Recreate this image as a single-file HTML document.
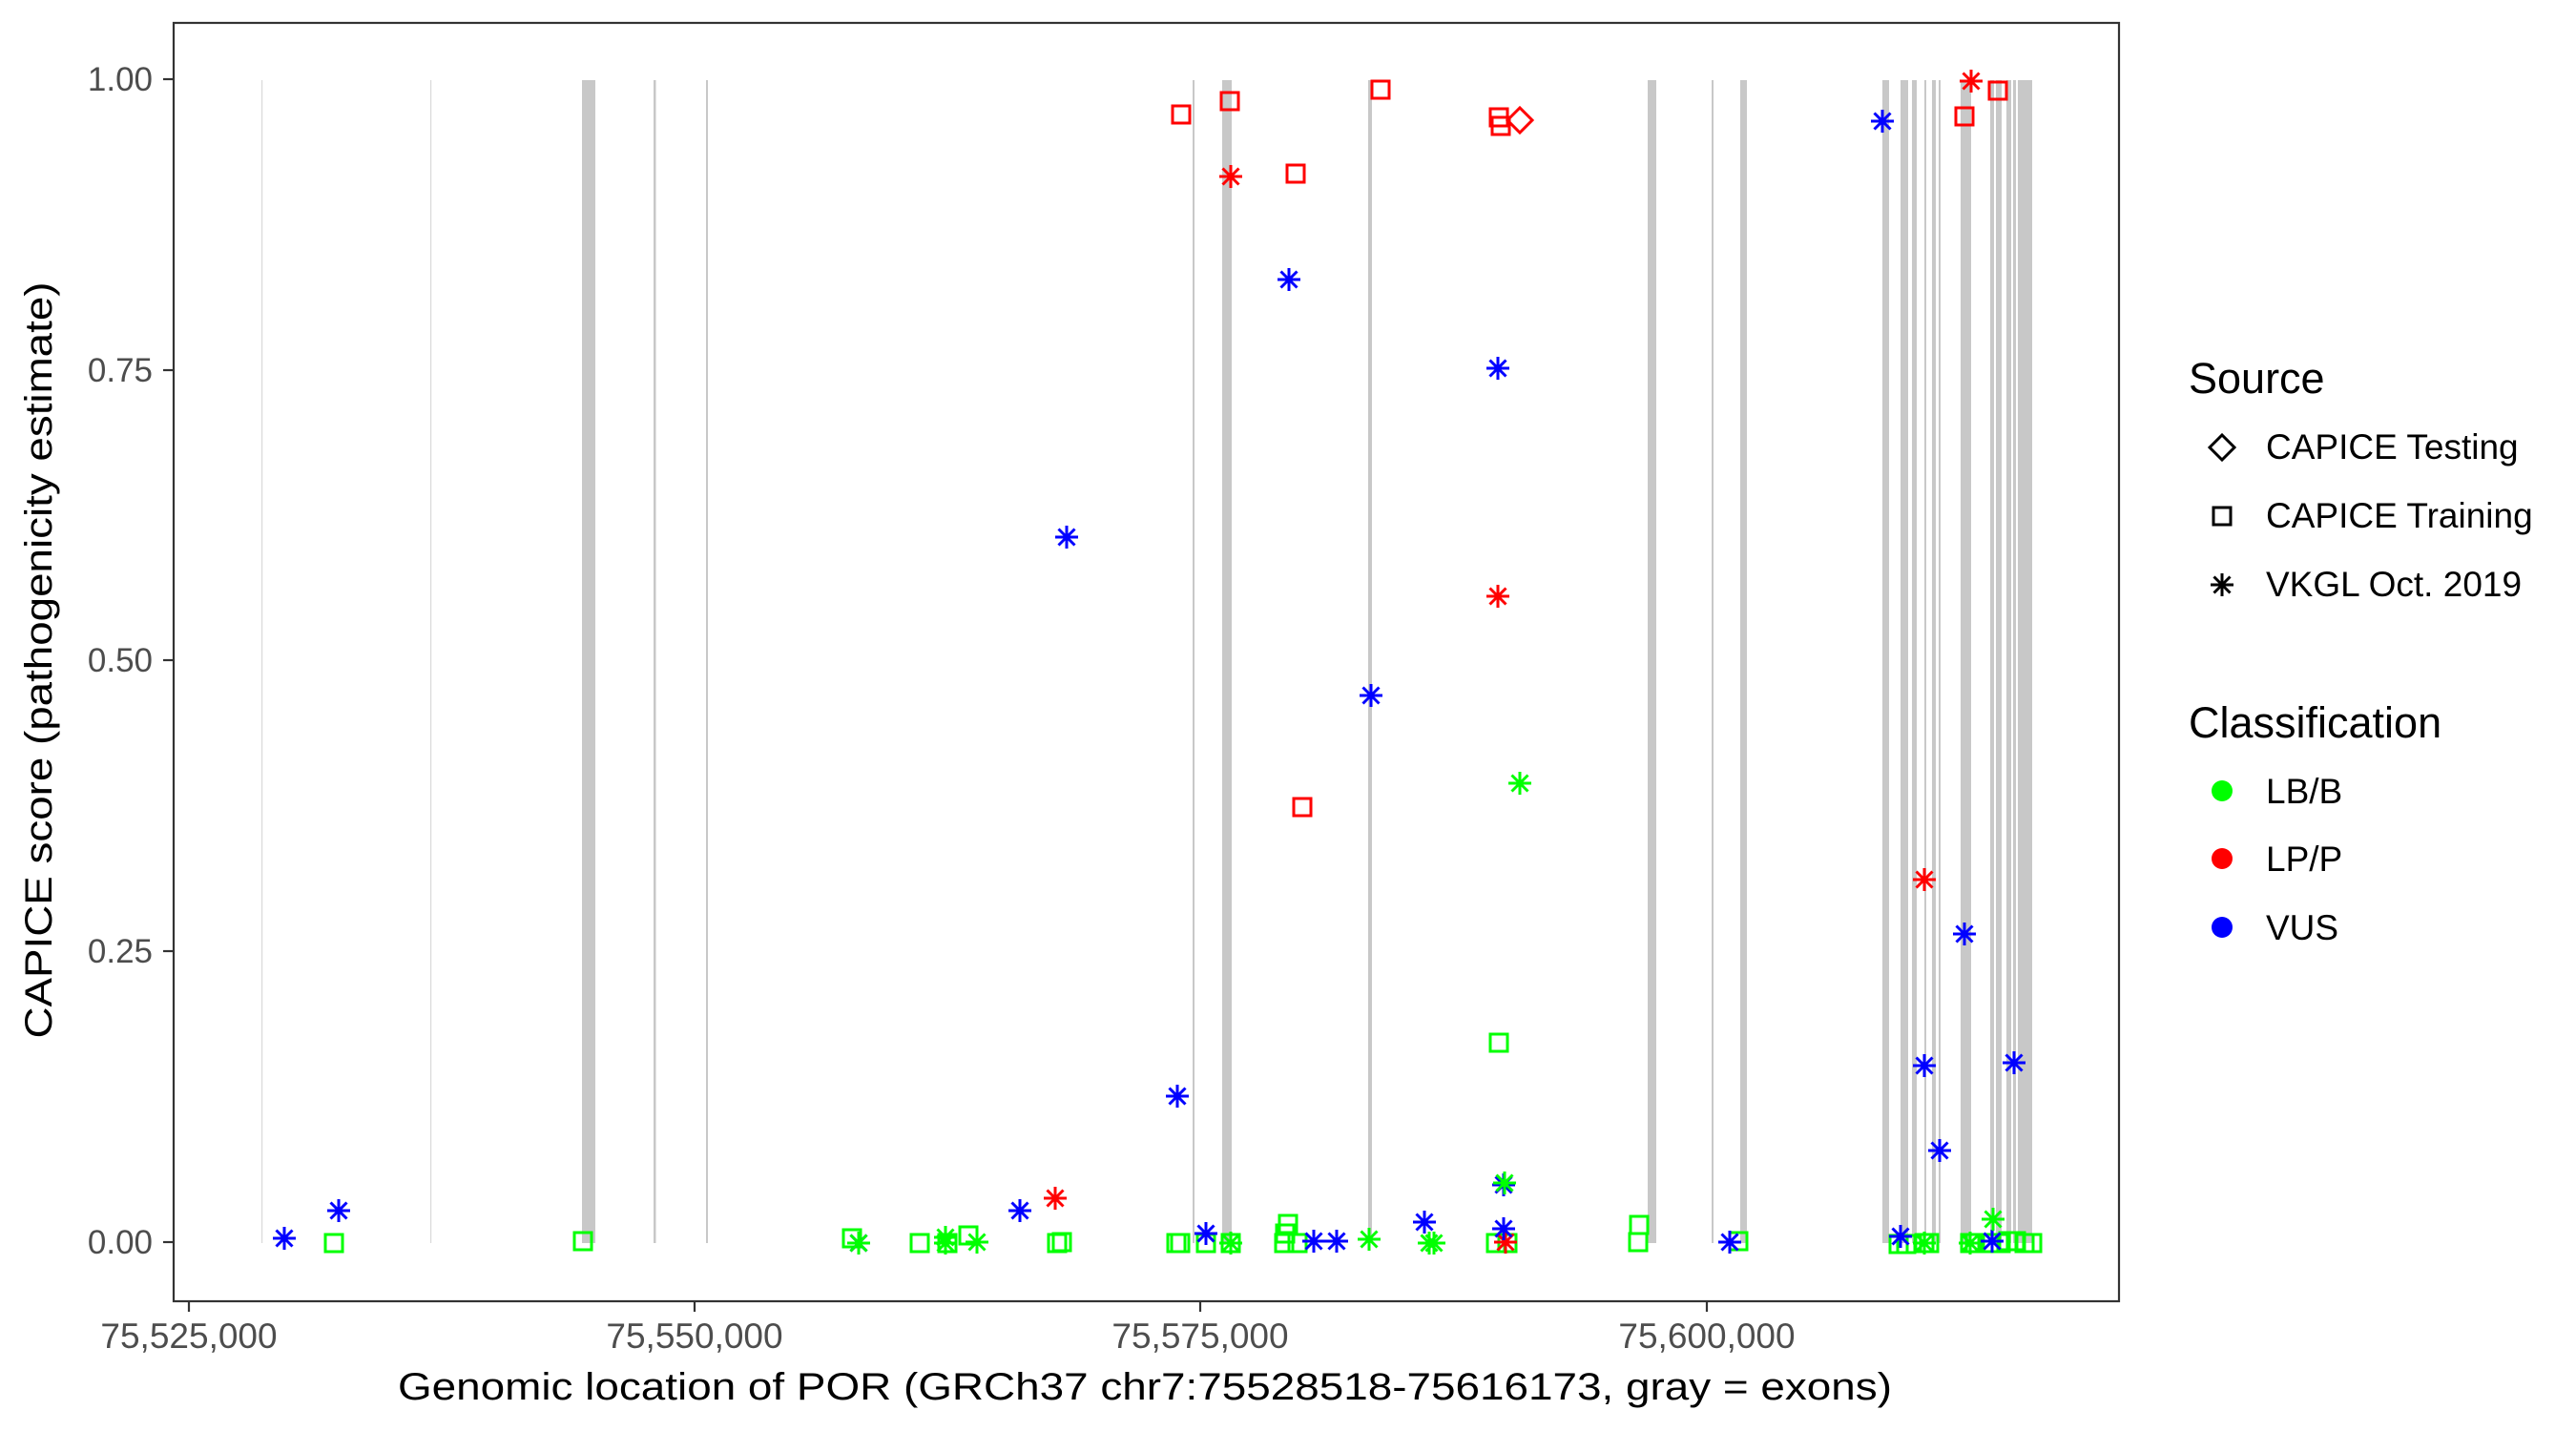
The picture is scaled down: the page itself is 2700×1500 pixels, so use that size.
<!DOCTYPE html>
<html><head><meta charset="utf-8"><style>html,body{margin:0;padding:0;background:#fff}svg{display:block}</style></head>
<body>
<svg width="2700" height="1500" viewBox="0 0 2700 1500" xmlns="http://www.w3.org/2000/svg" font-family="Liberation Sans, Arial, sans-serif">
<defs>
<path id="st" d="M-12,0H12M0,-12V12M-8.5,-8.5L8.5,8.5M-8.5,8.5L8.5,-8.5" fill="none" stroke-width="3"/>
<rect id="sq" x="-9" y="-9" width="18" height="18" fill="none" stroke-width="3"/>
<path id="dm" d="M-13,0L0,-13L13,0L0,13Z" fill="none" stroke-width="3"/>
</defs>
<rect width="2700" height="1500" fill="#fff"/>
<g fill="#c8c8c8">
<rect x="274" y="84" width="1.2" height="1219" fill="#d9d9d9"/>
<rect x="451" y="84" width="1.2" height="1219" fill="#d9d9d9"/>
<rect x="610" y="84" width="14" height="1219"/>
<rect x="685" y="84" width="2.5" height="1219"/>
<rect x="740" y="84" width="2" height="1219"/>
<rect x="1250" y="84" width="2" height="1219"/>
<rect x="1281" y="84" width="10" height="1219"/>
<rect x="1434" y="84" width="4" height="1219"/>
<rect x="1727" y="84" width="9" height="1219"/>
<rect x="1794" y="84" width="2" height="1219"/>
<rect x="1824" y="84" width="7" height="1219"/>
<rect x="1973" y="84" width="7" height="1219"/>
<rect x="1992" y="84" width="8" height="1219"/>
<rect x="2004" y="84" width="5" height="1219"/>
<rect x="2017" y="84" width="2" height="1219"/>
<rect x="2025" y="84" width="4" height="1219"/>
<rect x="2032" y="84" width="2" height="1219"/>
<rect x="2055" y="84" width="11" height="1219"/>
<rect x="2086" y="84" width="4" height="1219"/>
<rect x="2092" y="84" width="6" height="1219"/>
<rect x="2103" y="84" width="5" height="1219"/>
<rect x="2110" y="84" width="3" height="1219"/>
<rect x="2115" y="84" width="15" height="1219"/>
</g>
<g stroke="#00ff00">
<use href="#sq" x="350" y="1303"/><use href="#sq" x="611" y="1301"/>
<use href="#sq" x="893" y="1298"/><use href="#st" x="900" y="1303" stroke="#0000ff"/><use href="#st" x="900" y="1303"/>
<use href="#sq" x="964" y="1303"/><use href="#st" x="991" y="1297"/><use href="#sq" x="993" y="1303"/><use href="#st" x="991" y="1303"/>
<use href="#sq" x="1015" y="1295"/><use href="#st" x="1024" y="1302"/>
<use href="#sq" x="1108" y="1303"/><use href="#sq" x="1113" y="1302"/>
<use href="#sq" x="1233" y="1303"/><use href="#sq" x="1237" y="1303"/>
<use href="#sq" x="1264" y="1303"/><use href="#sq" x="1290" y="1303"/><use href="#st" x="1290" y="1303"/>
<use href="#sq" x="1350" y="1283"/><use href="#sq" x="1347" y="1293"/><use href="#sq" x="1346" y="1303"/><use href="#sq" x="1360" y="1303"/>
<use href="#st" x="1435" y="1299"/>
<use href="#st" x="1498" y="1303"/><use href="#st" x="1503" y="1303"/>
<use href="#sq" x="1571" y="1093"/>
<use href="#sq" x="1568" y="1303"/><use href="#sq" x="1580" y="1303"/>
<use href="#sq" x="1718" y="1284"/><use href="#sq" x="1717" y="1302"/>
<use href="#sq" x="1822" y="1301"/>
<use href="#sq" x="1990" y="1304"/><use href="#sq" x="1998" y="1304"/>
<use href="#sq" x="2017" y="1303"/><use href="#st" x="2017" y="1303"/><use href="#sq" x="2022" y="1303"/>
<use href="#sq" x="2065" y="1303"/><use href="#st" x="2065" y="1303"/><use href="#sq" x="2070" y="1303"/>
<use href="#sq" x="2085" y="1303"/><use href="#sq" x="2097" y="1303"/><use href="#sq" x="2105" y="1301"/><use href="#sq" x="2113" y="1301"/><use href="#sq" x="2122" y="1303"/><use href="#sq" x="2130" y="1303"/>
<use href="#st" x="1593" y="821"/>
</g>
<g stroke="#ff0000">
<use href="#sq" x="1238" y="120"/><use href="#sq" x="1289" y="106"/><use href="#st" x="1290" y="185"/>
<use href="#sq" x="1358" y="182"/><use href="#sq" x="1447" y="94"/>
<use href="#sq" x="1571" y="123"/><use href="#sq" x="1573" y="132"/><use href="#dm" x="1593" y="126"/>
<use href="#st" x="1570" y="625"/><use href="#sq" x="1365" y="846"/>
<use href="#st" x="1106" y="1256"/><use href="#st" x="1578" y="1302"/>
<use href="#st" x="2066" y="85"/><use href="#sq" x="2059" y="122"/><use href="#sq" x="2094" y="95"/>
<use href="#st" x="2017" y="922"/>
</g>
<g stroke="#0000ff">
<use href="#st" x="298" y="1298"/><use href="#st" x="355" y="1269"/>
<use href="#st" x="1069" y="1269"/><use href="#st" x="1118" y="563"/>
<use href="#st" x="1234" y="1149"/><use href="#st" x="1264" y="1293"/>
<use href="#st" x="1351" y="293"/><use href="#st" x="1377" y="1301"/><use href="#st" x="1401" y="1301"/>
<use href="#st" x="1437" y="729"/><use href="#st" x="1493" y="1281"/>
<use href="#st" x="1570" y="386"/><use href="#st" x="1576" y="1242"/><use href="#st" x="1576" y="1288"/>
<use href="#st" x="1813" y="1302"/>
<use href="#st" x="1973" y="127"/><use href="#st" x="1992" y="1296"/>
<use href="#st" x="2017" y="1117"/><use href="#st" x="2111" y="1114"/><use href="#st" x="2033" y="1206"/>
<use href="#st" x="2059" y="979"/><use href="#st" x="2088" y="1301"/>
</g>
<g stroke="#00ff00"><use href="#st" x="1577" y="1240"/><use href="#st" x="2089" y="1278"/></g>
<rect x="182" y="24" width="2039" height="1340" fill="none" stroke="#333" stroke-width="2.2"/>
<g stroke="#333" stroke-width="2.2">
<line x1="171" x2="182" y1="83" y2="83"/><line x1="171" x2="182" y1="388" y2="388"/><line x1="171" x2="182" y1="692" y2="692"/><line x1="171" x2="182" y1="997" y2="997"/><line x1="171" x2="182" y1="1302" y2="1302"/>
<line x1="198" x2="198" y1="1364" y2="1375"/><line x1="728" x2="728" y1="1364" y2="1375"/><line x1="1258" x2="1258" y1="1364" y2="1375"/><line x1="1789" x2="1789" y1="1364" y2="1375"/>
</g>
<g fill="#4d4d4d" font-size="35" text-anchor="end">
<text x="160" y="95">1.00</text><text x="160" y="400">0.75</text><text x="160" y="704">0.50</text><text x="160" y="1009">0.25</text><text x="160" y="1314">0.00</text>
</g>
<g fill="#4d4d4d" font-size="37" text-anchor="middle">
<text x="198" y="1413">75,525,000</text><text x="728" y="1413">75,550,000</text><text x="1258" y="1413">75,575,000</text><text x="1789" y="1413">75,600,000</text>
</g>
<text x="1200" y="1467" font-size="40" text-anchor="middle" textLength="1566" lengthAdjust="spacingAndGlyphs">Genomic location of POR (GRCh37 chr7:75528518-75616173, gray = exons)</text>
<text transform="translate(54,692) rotate(-90)" font-size="40" text-anchor="middle" textLength="793" lengthAdjust="spacingAndGlyphs">CAPICE score (pathogenicity estimate)</text>
<text x="2294" y="412" font-size="45">Source</text>
<g stroke="#000"><use href="#dm" x="2329" y="469"/><use href="#sq" x="2329" y="541"/><use href="#st" x="2329" y="613"/></g>
<g font-size="37"><text x="2375" y="481">CAPICE Testing</text><text x="2375" y="553">CAPICE Training</text><text x="2375" y="625">VKGL Oct. 2019</text></g>
<text x="2294" y="773" font-size="45">Classification</text>
<circle cx="2329" cy="829" r="11" fill="#00ff00"/><circle cx="2329" cy="900" r="11" fill="#ff0000"/><circle cx="2329" cy="972" r="11" fill="#0000ff"/>
<g font-size="37"><text x="2375" y="842">LB/B</text><text x="2375" y="913">LP/P</text><text x="2375" y="985">VUS</text></g>
</svg>
</body></html>
